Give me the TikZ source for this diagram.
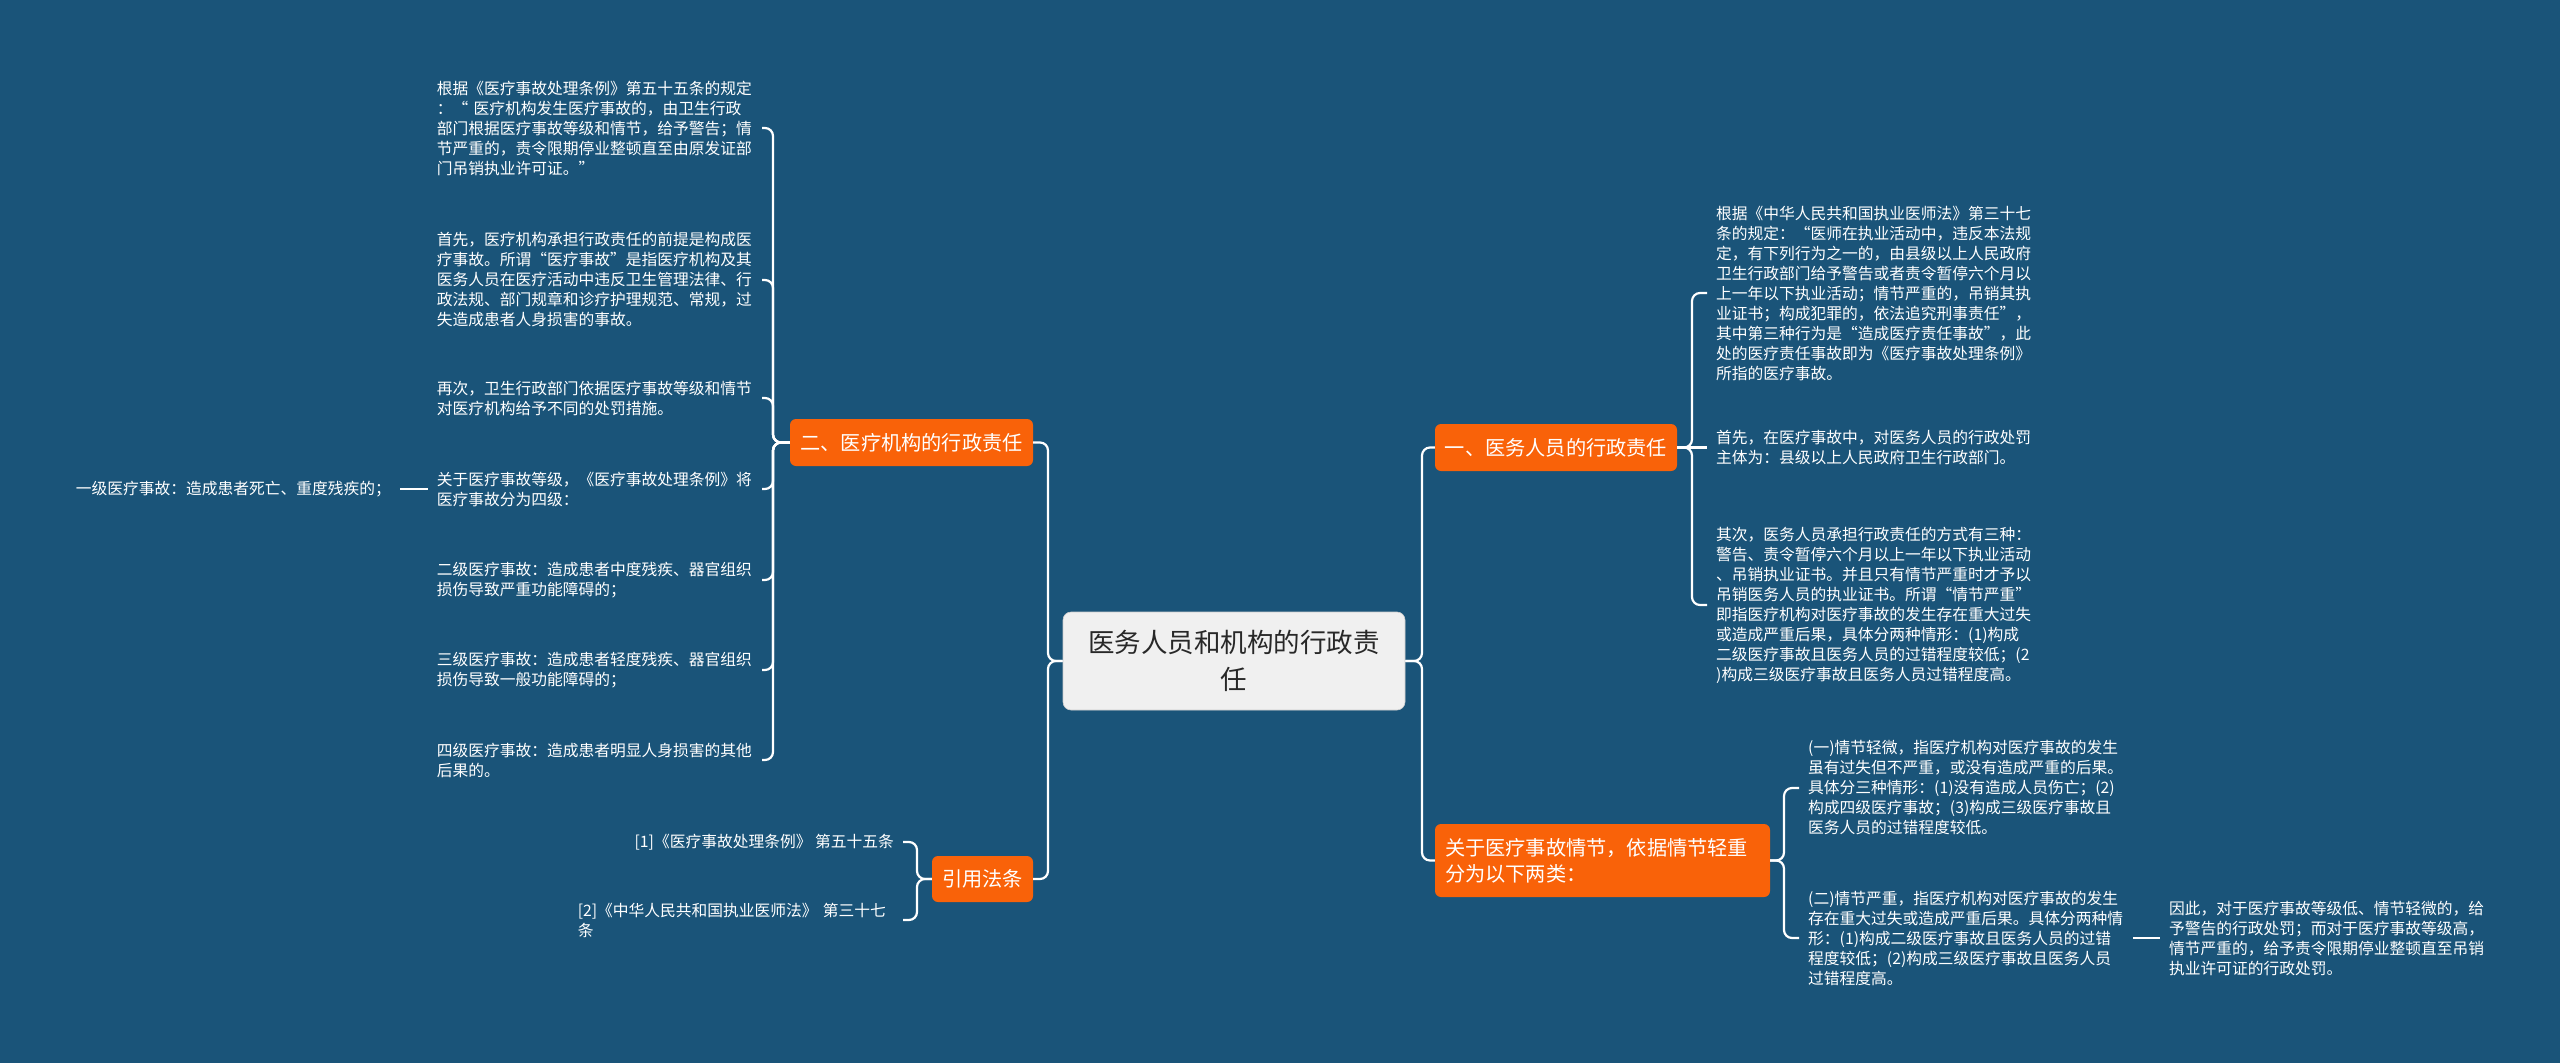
\documentclass[tikz,border=0pt]{standalone}
\usepackage{fontspec}
\setmainfont{Noto Sans CJK SC}
\definecolor{bg}{RGB}{26,84,121}
\definecolor{org}{RGB}{249,98,9}
\definecolor{ctr}{RGB}{240,240,240}
\definecolor{ctrtext}{RGB}{40,40,40}
\newcommand\leaffont{\fontsize{15.75}{20}\selectfont}
\newcommand\brfont{\fontsize{20.2}{26}\selectfont}
\newcommand\ctrfont{\fontsize{26.5}{37}\selectfont}
\begin{document}
\begin{tikzpicture}[x=1pt,y=-1pt,
  conn/.style={draw=white,line width=2.2pt,rounded corners=8pt},
  leaf/.style={text=white,font=\leaffont,align=left,text width=316pt,inner xsep=9pt,inner ysep=2pt},
  plain/.style={text=white,font=\leaffont,align=left,inner xsep=9pt,inner ysep=2pt},
  branch/.style={fill=org,text=white,font=\brfont,rounded corners=6pt,inner sep=0pt,minimum height=47pt}]
\fill[bg] (0,0) rectangle (2560,1063);

% center
\node[fill=ctr,draw=ctr!85!black,line width=0.6pt,rounded corners=8pt,text=ctrtext,font=\ctrfont,align=center,minimum width=342pt,minimum height=98pt,inner sep=0pt] (c) at (1234,661) {医务人员和机构的行政责\\任};

% branches
\node[branch,minimum width=243pt] (n2) at (911.5,442.5) {二、医疗机构的行政责任};
\node[branch,minimum width=101pt,minimum height=46pt] (nref) at (982.5,879) {引用法条};
\node[branch,minimum width=242pt] (n1) at (1556,447.5) {一、医务人员的行政责任};
\node[branch,align=left,text width=315pt,inner xsep=10pt,minimum height=73pt] (nq) at (1602.5,860.5) {关于医疗事故情节，依据情节轻重\\分为以下两类：};

% left leaves
\node[leaf,anchor=east] (L1) at (762,128) {根据《医疗事故处理条例》第五十五条的规定\\：“ 医疗机构发生医疗事故的，由卫生行政\\部门根据医疗事故等级和情节，给予警告；情\\节严重的，责令限期停业整顿直至由原发证部\\门吊销执业许可证。”};
\node[leaf,anchor=east] (L2) at (762,280) {首先，医疗机构承担行政责任的前提是构成医\\疗事故。所谓“医疗事故”是指医疗机构及其\\医务人员在医疗活动中违反卫生管理法律、行\\政法规、部门规章和诊疗护理规范、常规，过\\失造成患者人身损害的事故。};
\node[leaf,anchor=east] (L3) at (762,398) {再次，卫生行政部门依据医疗事故等级和情节\\对医疗机构给予不同的处罚措施。};
\node[leaf,anchor=east] (L4) at (762,489) {关于医疗事故等级，《医疗事故处理条例》将\\医疗事故分为四级：};
\node[leaf,anchor=east] (L5) at (762,580) {二级医疗事故：造成患者中度残疾、器官组织\\损伤导致严重功能障碍的；};
\node[leaf,anchor=east] (L6) at (762,670) {三级医疗事故：造成患者轻度残疾、器官组织\\损伤导致一般功能障碍的；};
\node[leaf,anchor=east] (L7) at (762,760) {四级医疗事故：造成患者明显人身损害的其他\\后果的。};
\node[plain,anchor=east] (L0) at (400,489) {一级医疗事故：造成患者死亡、重度残疾的；};

% references
\node[plain,anchor=east] (ref1) at (903,842) {[1]《医疗事故处理条例》 第五十五条};
\node[leaf,anchor=east] (ref2) at (903,920) {[2]《中华人民共和国执业医师法》 第三十七\\条};

% right leaves
\node[leaf,anchor=west] (R1) at (1707,293) {根据《中华人民共和国执业医师法》第三十七\\条的规定：“医师在执业活动中，违反本法规\\定，有下列行为之一的，由县级以上人民政府\\卫生行政部门给予警告或者责令暂停六个月以\\上一年以下执业活动；情节严重的，吊销其执\\业证书；构成犯罪的，依法追究刑事责任”，\\其中第三种行为是“造成医疗责任事故”，此\\处的医疗责任事故即为《医疗事故处理条例》\\所指的医疗事故。};
\node[leaf,anchor=west] (R2) at (1707,447.5) {首先，在医疗事故中，对医务人员的行政处罚\\主体为：县级以上人民政府卫生行政部门。};
\node[leaf,anchor=west] (R3) at (1707,605) {其次，医务人员承担行政责任的方式有三种：\\警告、责令暂停六个月以上一年以下执业活动\\、吊销执业证书。并且只有情节严重时才予以\\吊销医务人员的执业证书。所谓“情节严重”\\即指医疗机构对医疗事故的发生存在重大过失\\或造成严重后果，具体分两种情形：(1)构成\\二级医疗事故且医务人员的过错程度较低；(2\\)构成三级医疗事故且医务人员过错程度高。};
\node[leaf,anchor=west] (Q1) at (1799,788) {(一)情节轻微，指医疗机构对医疗事故的发生\\虽有过失但不严重，或没有造成严重的后果。\\具体分三种情形：(1)没有造成人员伤亡；(2)\\构成四级医疗事故；(3)构成三级医疗事故且\\医务人员的过错程度较低。};
\node[leaf,anchor=west] (Q2) at (1799,938) {(二)情节严重，指医疗机构对医疗事故的发生\\存在重大过失或造成严重后果。具体分两种情\\形：(1)构成二级医疗事故且医务人员的过错\\程度较低；(2)构成三级医疗事故且医务人员\\过错程度高。};
\node[leaf,anchor=west] (F) at (2160,938) {因此，对于医疗事故等级低、情节轻微的，给\\予警告的行政处罚；而对于医疗事故等级高，\\情节严重的，给予责令限期停业整顿直至吊销\\执业许可证的行政处罚。};

% bracket columns
\coordinate (bL) at (773,0);
\coordinate (bC) at (1048,0);
\coordinate (bR) at (1422,0);
\coordinate (b1) at (1692,0);
\coordinate (bQ) at (1784,0);
\coordinate (bRef) at (917,0);

% connectors
\draw[conn] (c.west) -- (c.west -| bC) |- (n2.east);
\draw[conn] (c.west) -- (c.west -| bC) |- (nref.east);
\draw[conn] (c.east) -- (c.east -| bR) |- (n1.west);
\draw[conn] (c.east) -- (c.east -| bR) |- (nq.west);
\foreach \t in {L1,L2,L3,L4,L5,L6,L7}
  \draw[conn] (n2.west) -- (n2.west -| bL) |- (\t.east);
\draw[conn] (L0.east) -- (L4.west);
\draw[conn] (nref.west) -- (nref.west -| bRef) |- (ref1.east);
\draw[conn] (nref.west) -- (nref.west -| bRef) |- (ref2.east);
\draw[conn] (n1.east) -- (n1.east -| b1) |- (R1.west);
\draw[conn] (n1.east) -- (R2.west);
\draw[conn] (n1.east) -- (n1.east -| b1) |- (R3.west);
\draw[conn] (nq.east) -- (nq.east -| bQ) |- (Q1.west);
\draw[conn] (nq.east) -- (nq.east -| bQ) |- (Q2.west);
\draw[conn] (Q2.east) -- (F.west);
\end{tikzpicture}
\end{document}
